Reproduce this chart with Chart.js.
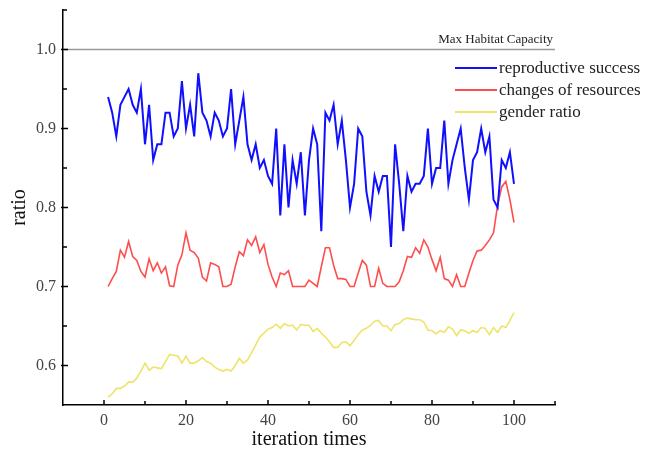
<!DOCTYPE html>
<html>
<head>
<meta charset="utf-8">
<script src="https://cdn.jsdelivr.net/npm/chart.js@4/dist/chart.umd.min.js"></script>
<style>
  body { margin: 0; background: #fff; }
  #wrap { width: 646px; height: 455px; }
</style>
</head>
<body>
<div id="wrap"><canvas id="chart" width="646" height="455"></canvas></div>
<script>
// iteration index on the x axis
const iterations = Array.from({ length: 100 }, (_, i) => i + 1);

const reproductiveSuccess = [
  0.94, 0.92, 0.89, 0.93, 0.94, 0.95, 0.93, 0.92, 0.95, 0.88,
  0.93, 0.86, 0.88, 0.88, 0.92, 0.92, 0.89, 0.90, 0.96, 0.90,
  0.93, 0.89, 0.97, 0.92, 0.91, 0.89, 0.92, 0.91, 0.89, 0.90,
  0.95, 0.88, 0.91, 0.94, 0.88, 0.86, 0.88, 0.85, 0.86, 0.84,
  0.83, 0.90, 0.79, 0.88, 0.80, 0.86, 0.83, 0.87, 0.79, 0.86,
  0.90, 0.88, 0.77, 0.92, 0.91, 0.93, 0.88, 0.91, 0.86, 0.80,
  0.83, 0.90, 0.89, 0.82, 0.79, 0.84, 0.82, 0.84, 0.84, 0.75,
  0.88, 0.83, 0.77, 0.84, 0.82, 0.83, 0.83, 0.84, 0.90, 0.83,
  0.85, 0.85, 0.91, 0.83, 0.86, 0.88, 0.90, 0.85, 0.81, 0.86,
  0.87, 0.90, 0.87, 0.89, 0.81, 0.80, 0.86, 0.85, 0.87, 0.83
];

const resourceChanges = [
  0.700, 0.710, 0.719, 0.746, 0.737, 0.757, 0.738, 0.733, 0.719, 0.712,
  0.735, 0.720, 0.730, 0.717, 0.725, 0.701, 0.700, 0.727, 0.740, 0.768,
  0.746, 0.743, 0.736, 0.712, 0.707, 0.730, 0.728, 0.725, 0.700, 0.700,
  0.703, 0.725, 0.744, 0.739, 0.759, 0.752, 0.763, 0.743, 0.753, 0.728,
  0.712, 0.700, 0.717, 0.715, 0.720, 0.700, 0.700, 0.700, 0.700, 0.708,
  0.704, 0.700, 0.725, 0.749, 0.749, 0.727, 0.710, 0.710, 0.709, 0.700,
  0.700, 0.717, 0.733, 0.727, 0.700, 0.700, 0.723, 0.704, 0.700, 0.700,
  0.700, 0.706, 0.720, 0.738, 0.737, 0.749, 0.742, 0.759, 0.750, 0.734,
  0.720, 0.737, 0.710, 0.708, 0.700, 0.715, 0.700, 0.700, 0.717, 0.733,
  0.745, 0.746, 0.752, 0.759, 0.768, 0.803, 0.826, 0.833, 0.810, 0.781
];

const genderRatio = [
  0.560, 0.564, 0.571, 0.571, 0.574, 0.579, 0.579, 0.584, 0.593, 0.603,
  0.594, 0.598, 0.597, 0.596, 0.605, 0.614, 0.613, 0.612, 0.603, 0.612,
  0.603, 0.603, 0.606, 0.610, 0.605, 0.603, 0.598, 0.595, 0.593, 0.595,
  0.593, 0.600, 0.609, 0.603, 0.607, 0.616, 0.626, 0.636, 0.641, 0.646,
  0.648, 0.652, 0.647, 0.653, 0.650, 0.651, 0.645, 0.652, 0.651, 0.651,
  0.643, 0.647, 0.641, 0.636, 0.630, 0.623, 0.623, 0.629, 0.630, 0.625,
  0.632, 0.639, 0.645, 0.647, 0.651, 0.656, 0.657, 0.650, 0.650, 0.644,
  0.652, 0.653, 0.658, 0.660, 0.659, 0.658, 0.658, 0.655, 0.645, 0.644,
  0.640, 0.644, 0.642, 0.649, 0.646, 0.638, 0.645, 0.644, 0.641, 0.644,
  0.642, 0.648, 0.647, 0.639, 0.648, 0.642, 0.650, 0.648, 0.657, 0.667
];

const maxCapacity = 1.0;
const xMin = -10, xMax = 110, xStep = 10;
const yMin = 0.55, yMax = 1.05, yStep = 0.05;

const serif = "'Liberation Serif', 'DejaVu Serif', serif";

// inward tick marks (major and minor) on both axes
const innerTicks = {
  id: "innerTicks",
  afterDraw(chart) {
    const { ctx, chartArea, scales } = chart;
    ctx.save();
    ctx.strokeStyle = "#000";
    ctx.lineWidth = 1.5;
    scales.x.ticks.forEach((t) => {
      if (t.value <= xMin) return;
      const px = scales.x.getPixelForValue(t.value);
      const len = t.value % 20 === 0 ? 5 : 4;
      ctx.beginPath();
      ctx.moveTo(px, chartArea.bottom);
      ctx.lineTo(px, chartArea.bottom - len);
      ctx.stroke();
    });
    scales.y.ticks.forEach((t) => {
      if (t.value <= yMin + 1e-9) return;
      const py = scales.y.getPixelForValue(t.value);
      const major = Math.abs(Math.round(t.value * 10) - t.value * 10) < 1e-6;
      ctx.beginPath();
      ctx.moveTo(chartArea.left - (major ? 2 : 0), py);
      ctx.lineTo(chartArea.left + (major ? 5 : 4), py);
      ctx.stroke();
    });
    ctx.restore();
  },
};

// capacity caption and the legend in the upper right
const annotations = {
  id: "annotations",
  afterDraw(chart) {
    const { ctx, chartArea, scales } = chart;
    const capY = scales.y.getPixelForValue(maxCapacity);
    ctx.save();
    ctx.fillStyle = "#222";
    ctx.font = "13px " + serif;
    ctx.textAlign = "right";
    ctx.textBaseline = "alphabetic";
    ctx.fillText("Max Habitat Capacity", chartArea.right - 2, capY - 7);

    ctx.font = "17px " + serif;
    ctx.textAlign = "left";
    ctx.textBaseline = "middle";
    chart.data.datasets
      .filter((ds) => !ds.hideInLegend)
      .forEach((ds, i) => {
        const y = chartArea.top + 58 + i * 22;
        ctx.strokeStyle = ds.borderColor;
        ctx.lineWidth = 2;
        ctx.beginPath();
        ctx.moveTo(chartArea.right - 100, y);
        ctx.lineTo(chartArea.right - 58, y);
        ctx.stroke();
        ctx.fillStyle = "#222";
        ctx.fillText(ds.label, chartArea.right - 56, y + 1);
      });
    ctx.restore();
  },
};

new Chart(document.getElementById("chart"), {
  type: "line",
  data: {
    labels: iterations,
    datasets: [
      {
        label: "Max Habitat Capacity",
        data: [
          { x: xMin, y: maxCapacity },
          { x: xMax, y: maxCapacity },
        ],
        borderColor: "#9a9a9a",
        borderWidth: 1.5,
        pointRadius: 0,
        hideInLegend: true,
      },
      {
        label: "reproductive success",
        data: reproductiveSuccess,
        borderColor: "#1010ff",
        borderWidth: 2,
        pointRadius: 0,
        tension: 0,
      },
      {
        label: "changes of resources",
        data: resourceChanges,
        borderColor: "#ff4d4d",
        borderWidth: 1.6,
        pointRadius: 0,
        tension: 0,
      },
      {
        label: "gender ratio",
        data: genderRatio,
        borderColor: "#efe46a",
        borderWidth: 1.6,
        pointRadius: 0,
        tension: 0,
      },
    ],
  },
  options: {
    responsive: false,
    animation: false,
    layout: { padding: { top: 10, right: 91, left: 0, bottom: 0 } },
    plugins: {
      legend: { display: false },
      tooltip: { enabled: false },
    },
    scales: {
      x: {
        type: "linear",
        min: xMin,
        max: xMax,
        afterFit: (scale) => {
          scale.height = 50;
          scale.paddingLeft = 0;
          scale.paddingRight = 0;
        },
        ticks: {
          stepSize: xStep,
          autoSkip: false,
          maxRotation: 0,
          padding: 6,
          color: "#444",
          font: { family: serif, size: 16 },
          callback: (v) => (v >= 0 && v <= 100 && v % 20 === 0 ? String(v) : ""),
        },
        grid: { drawOnChartArea: false, drawTicks: false },
        border: { display: true, color: "#000", width: 1.5 },
        title: {
          display: true,
          text: "iteration times",
          color: "#111",
          font: { family: serif, size: 20 },
          padding: { top: 0, bottom: 3 },
        },
      },
      y: {
        min: yMin,
        max: yMax,
        afterFit: (scale) => {
          scale.width = 63;
          scale.paddingTop = 0;
          scale.paddingBottom = 0;
        },
        ticks: {
          stepSize: yStep,
          autoSkip: false,
          padding: 7,
          color: "#444",
          font: { family: serif, size: 16 },
          callback: (v) => {
            const tenths = Math.round(v * 10);
            if (Math.abs(tenths - v * 10) > 1e-6) return "";
            if (v < 0.6 - 1e-9 || v > 1.0 + 1e-9) return "";
            return v.toFixed(1);
          },
        },
        grid: { drawOnChartArea: false, drawTicks: false },
        border: { display: true, color: "#000", width: 1.5 },
        title: {
          display: true,
          text: "ratio",
          color: "#111",
          font: { family: serif, size: 20 },
          padding: { top: 8, bottom: 0 },
        },
      },
    },
  },
  plugins: [innerTicks, annotations],
});
</script>
</body>
</html>
